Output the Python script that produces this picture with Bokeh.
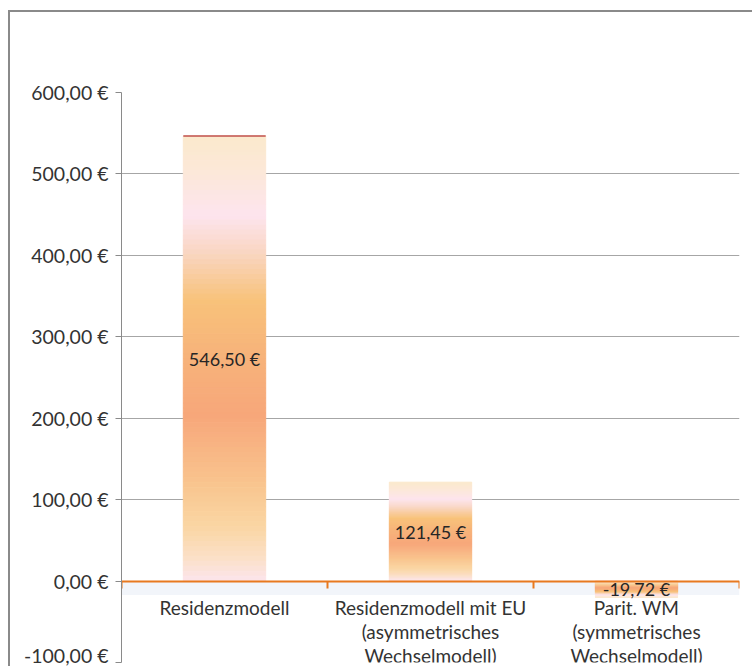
import numpy as np
from bokeh.plotting import figure
from bokeh.models import Range1d, FixedTicker, BoxAnnotation, ColumnDataSource, LabelSet
from bokeh.core.properties import value
from bokeh.embed import file_html
from bokeh.resources import INLINE

# ---- data ----
categories = [
    "Residenzmodell",
    "Residenzmodell mit EU\n(asymmetrisches\nWechselmodell)",
    "Parit. WM\n(symmetrisches\nWechselmodell)",
]
values = [546.50, 121.45, -19.72]
y_ticks = [-100, 0, 100, 200, 300, 400, 500, 600]


def eur(v):
    return f"{v:.2f}".replace(".", ",") + " €"


# ---- style ----
FONT = "Lato"
grad_stops = [
    (0.00, "#FBE9CC"), (0.08, "#FCE8D8"), (0.18, "#FDE4EE"), (0.27, "#F9D5BE"),
    (0.37, "#F8C27A"), (0.50, "#F7B27A"), (0.63, "#F7A77A"), (0.78, "#F9C48E"),
    (0.88, "#FAD6A4"), (0.95, "#FBE0C8"), (1.00, "#FCE4EC"),
]


def hex2rgb(h):
    return np.array([int(h[i:i + 2], 16) for i in (1, 3, 5)], dtype=float)


def grad_color(f):
    for (f0, c0), (f1, c1) in zip(grad_stops[:-1], grad_stops[1:]):
        if f <= f1:
            t = (f - f0) / (f1 - f0) if f1 > f0 else 0
            c = hex2rgb(c0) * (1 - t) + hex2rgb(c1) * t
            return "#%02x%02x%02x" % tuple(int(round(x)) for x in c)
    return grad_stops[-1][1]


centers = [i + 0.5 for i in range(len(categories))]
BAR_W = 0.4

p = figure(
    width=744, height=656, output_backend="svg", toolbar_location=None,
    x_range=Range1d(0, len(categories)), y_range=Range1d(-100, 600),
    min_border_left=111, min_border_top=80, min_border_right=15, min_border_bottom=6,
    styles={"border-top": "2px solid #8a8a8a", "border-left": "2px solid #8a8a8a",
            "margin-top": "10px", "margin-left": "8px"},
)
p.outline_line_color = None
p.background_fill_color = "white"
p.border_fill_color = "white"

# gridlines
p.xgrid.visible = False
p.ygrid.grid_line_color = "#A6A6A6"
p.ygrid.grid_line_width = 1

# y axis
p.yaxis.ticker = FixedTicker(ticks=y_ticks)
p.yaxis.major_label_overrides = {t: eur(t) for t in y_ticks}
p.yaxis.axis_line_color = "#8a8a8a"
p.yaxis.major_tick_line_color = "#8a8a8a"
p.yaxis.major_tick_out = 6
p.yaxis.major_tick_in = 0
p.yaxis.minor_tick_line_color = None
p.yaxis.major_label_standoff = 7
p.yaxis.major_label_text_font = FONT
p.yaxis.major_label_text_font_size = "19.5px"
p.yaxis.major_label_text_color = "#333333"

# x axis drawn at zero (orange), without labels
bounds = list(range(len(categories) + 1))
p.xaxis.fixed_location = 0
p.xaxis.ticker = FixedTicker(ticks=bounds)
p.xaxis.major_label_overrides = {b: "" for b in bounds}
p.xaxis.axis_line_color = "#E8791F"
p.xaxis.axis_line_width = 2
p.xaxis.major_tick_line_color = "#E8791F"
p.xaxis.major_tick_line_width = 2
p.xaxis.major_tick_out = 7
p.xaxis.major_tick_in = 0
p.xaxis.minor_tick_line_color = None

# soft shadow under the zero axis
p.add_layout(BoxAnnotation(top=0, bottom=-17, fill_color="#E9EEF6", fill_alpha=0.6,
                           line_color=None, level="underlay"))

# gradient bars
N = 90
xs, tops, bottoms, cols = [], [], [], []
for c, v in zip(centers, values):
    for k in range(N):
        f0, f1 = k / N, (k + 1) / N
        xs.append(c)
        tops.append(v * (1 - f0))
        bottoms.append(v * (1 - f1))
        cols.append(grad_color((f0 + f1) / 2))
src = ColumnDataSource(dict(x=xs, top=tops, bottom=bottoms, color=cols))
p.vbar(x="x", top="top", bottom="bottom", width=BAR_W, source=src,
       fill_color="color", line_color="color", line_width=1)

# thin red edge on top of the first bar
p.segment(x0=[centers[0] - BAR_W / 2], x1=[centers[0] + BAR_W / 2],
          y0=[values[0]], y1=[values[0]], line_color="#C0504D", line_width=1.5)

# value labels
p.text(x=centers, y=[v / 2 for v in values], text=[eur(v) for v in values],
       text_align="center", text_baseline="middle", text_font=value(FONT),
       text_font_size="18px", text_color="#262626")

# category labels (annotation, so not clipped by the frame), one row per line
lx, ly, lt, lo = [], [], [], []
for c, cat in zip(centers, categories):
    for i, line in enumerate(cat.split("\n")):
        lx.append(c)
        ly.append(0)
        lt.append(line)
        lo.append(-26 - 24 * i)
cat_src = ColumnDataSource(dict(x=lx, y=ly, text=lt, off=lo))
p.add_layout(LabelSet(x="x", y="y", text="text", source=cat_src, y_offset="off",
                      text_align="center", text_baseline="middle",
                      text_font=value(FONT), text_font_size="19px",
                      text_color="#333333"))

open("out.html", "w").write(file_html(p, INLINE))
